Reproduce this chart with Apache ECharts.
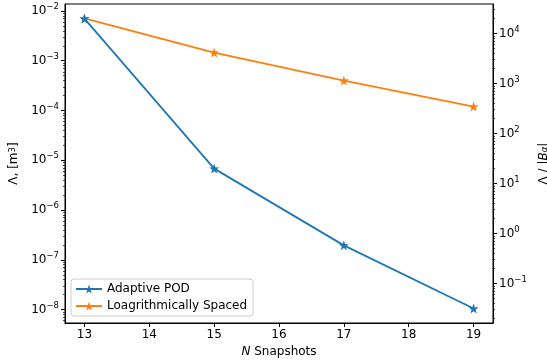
<!DOCTYPE html>
<html>
<head>
<meta charset="utf-8">
<script src="https://cdn.jsdelivr.net/npm/echarts@6/dist/echarts.min.js"></script>
<style>html,body{margin:0;padding:0;background:#fff}#c{width:547px;height:362px}</style>
</head>
<body>
<div id="c"></div>
<script>
// Data
const snapshots = [13, 15, 17, 19];
const adaptivePOD = [7.0e-3, 6.8e-6, 1.95e-7, 1.05e-8];
const logSpaced = [7.1e-3, 1.46e-3, 4.0e-4, 1.2e-4];
const xTicks = [13, 14, 15, 16, 17, 18, 19];
const leftExponents = [-8, -7, -6, -5, -4, -3, -2];
const rightExponents = [-1, 0, 1, 2, 3, 4];
const leftRange = [-8.27, -1.86];
const rightRange = [-1.79, 4.59];
const xRange = [12.7, 19.3];

function minorTicks(lo, hi) {
  const out = [];
  for (let d = Math.floor(lo) - 1; d <= Math.ceil(hi); d++) {
    for (let k = 2; k <= 9; k++) out.push(d + Math.log10(k));
  }
  return out;
}
function supLabel(v) {
  const n = Math.round(v);
  return '{b|10}{s|' + (n < 0 ? '\u2212' + (-n) : String(n)) + '}';
}
const FONT = 'DejaVu Sans';
const FS = 12;
const richSup = {
  b: { fontFamily: FONT, fontSize: FS, color: '#000', lineHeight: 17 },
  s: { fontFamily: FONT, fontSize: 8.5, color: '#000', lineHeight: 9, verticalAlign: 'top' }
};
const star = 'path://M0,-10 L2.35,-3.24 L9.51,-3.09 L3.8,1.24 L5.88,8.09 L0,4 L-5.88,8.09 L-3.8,1.24 L-9.51,-3.09 L-2.35,-3.24 Z';

const chart = echarts.init(document.getElementById('c'), null, { renderer: 'canvas' });

function majorAxis(pos, range, exps, name, gap) {
  return {
    type: 'value', position: pos, offset: 0, min: range[0], max: range[1],
    axisLine: { show: true, lineStyle: { color: '#000', width: 1 } },
    axisTick: { show: true, length: 4, customValues: exps, lineStyle: { color: '#000', width: 1 } },
    axisLabel: { show: true, customValues: exps, margin: 6, formatter: supLabel, rich: richSup },
    splitLine: { show: false },
    name: name, nameLocation: 'middle', nameGap: gap, nameRotate: 90,
    nameTextStyle: {
      fontFamily: FONT, fontSize: FS, color: '#000',
      rich: {
        t: { fontFamily: FONT, fontSize: FS, color: '#000' },
        i: { fontFamily: FONT, fontSize: FS, color: '#000', fontStyle: 'italic' },
        sup: { fontFamily: FONT, fontSize: 8.5, color: '#000', verticalAlign: 'top', lineHeight: 8 },
        sub: { fontFamily: FONT, fontSize: 8.5, color: '#000', verticalAlign: 'bottom', lineHeight: 8, fontStyle: 'italic' }
      }
    }
  };
}
function minorAxis(pos, range) {
  return {
    type: 'value', position: pos, offset: 0, min: range[0], max: range[1],
    axisLine: { show: false },
    axisTick: { show: true, length: 2, customValues: minorTicks(range[0], range[1]), lineStyle: { color: '#000', width: 0.7 } },
    axisLabel: { show: false },
    splitLine: { show: false }
  };
}

const option = {
  animation: false,
  backgroundColor: '#fff',
  grid: { left: 65, right: 54, top: 4, bottom: 39, outerBoundsMode: 'none', containLabel: false, show: true, borderColor: '#000', borderWidth: 1, backgroundColor: 'transparent' },
  legend: {
    left: 71, top: 279, orient: 'vertical',
    padding: [4, 6, 4, 4], itemGap: 5, itemWidth: 26, itemHeight: 11,
    borderColor: '#cccccc', borderWidth: 1, borderRadius: 3, backgroundColor: 'rgba(255,255,255,0.8)',
    textStyle: { fontFamily: FONT, fontSize: FS, color: '#000' },
    data: ['Adaptive POD', 'Loagrithmically Spaced']
  },
  xAxis: {
    type: 'value', min: xRange[0], max: xRange[1],
    axisLine: { show: true, onZero: false, lineStyle: { color: '#000', width: 1 } },
    axisTick: { show: true, length: 4, customValues: xTicks, lineStyle: { color: '#000', width: 1 } },
    axisLabel: { show: true, customValues: xTicks, margin: 6, fontFamily: FONT, fontSize: FS, color: '#000' },
    splitLine: { show: false },
    name: '{i|N} Snapshots', nameLocation: 'middle', nameGap: 23,
    nameTextStyle: {
      fontFamily: FONT, fontSize: FS, color: '#000',
      rich: { i: { fontFamily: FONT, fontSize: FS, color: '#000', fontStyle: 'italic' } }
    }
  },
  yAxis: [
    majorAxis('left', leftRange, leftExponents, '{t|\u039B, [m}{sup|3}{t|]}', 44),
    majorAxis('right', rightRange, rightExponents, '{t|\u039B / |}{i|B}{sub|\u03B1}{t||}', 42),
    minorAxis('left', leftRange),
    minorAxis('right', rightRange)
  ],
  series: [
    {
      name: 'Loagrithmically Spaced', type: 'line', yAxisIndex: 0, z: 2,
      data: snapshots.map((x, i) => [x, Math.log10(logSpaced[i])]),
      symbol: star, symbolSize: 10,
      itemStyle: { color: '#ff7f0e' }, lineStyle: { color: '#ff7f0e', width: 1.8 }
    },
    {
      name: 'Adaptive POD', type: 'line', yAxisIndex: 0, z: 3,
      data: snapshots.map((x, i) => [x, Math.log10(adaptivePOD[i])]),
      symbol: star, symbolSize: 10,
      itemStyle: { color: '#1f77b4' }, lineStyle: { color: '#1f77b4', width: 1.8 }
    }
  ]
};
chart.setOption(option);
</script>
</body>
</html>
